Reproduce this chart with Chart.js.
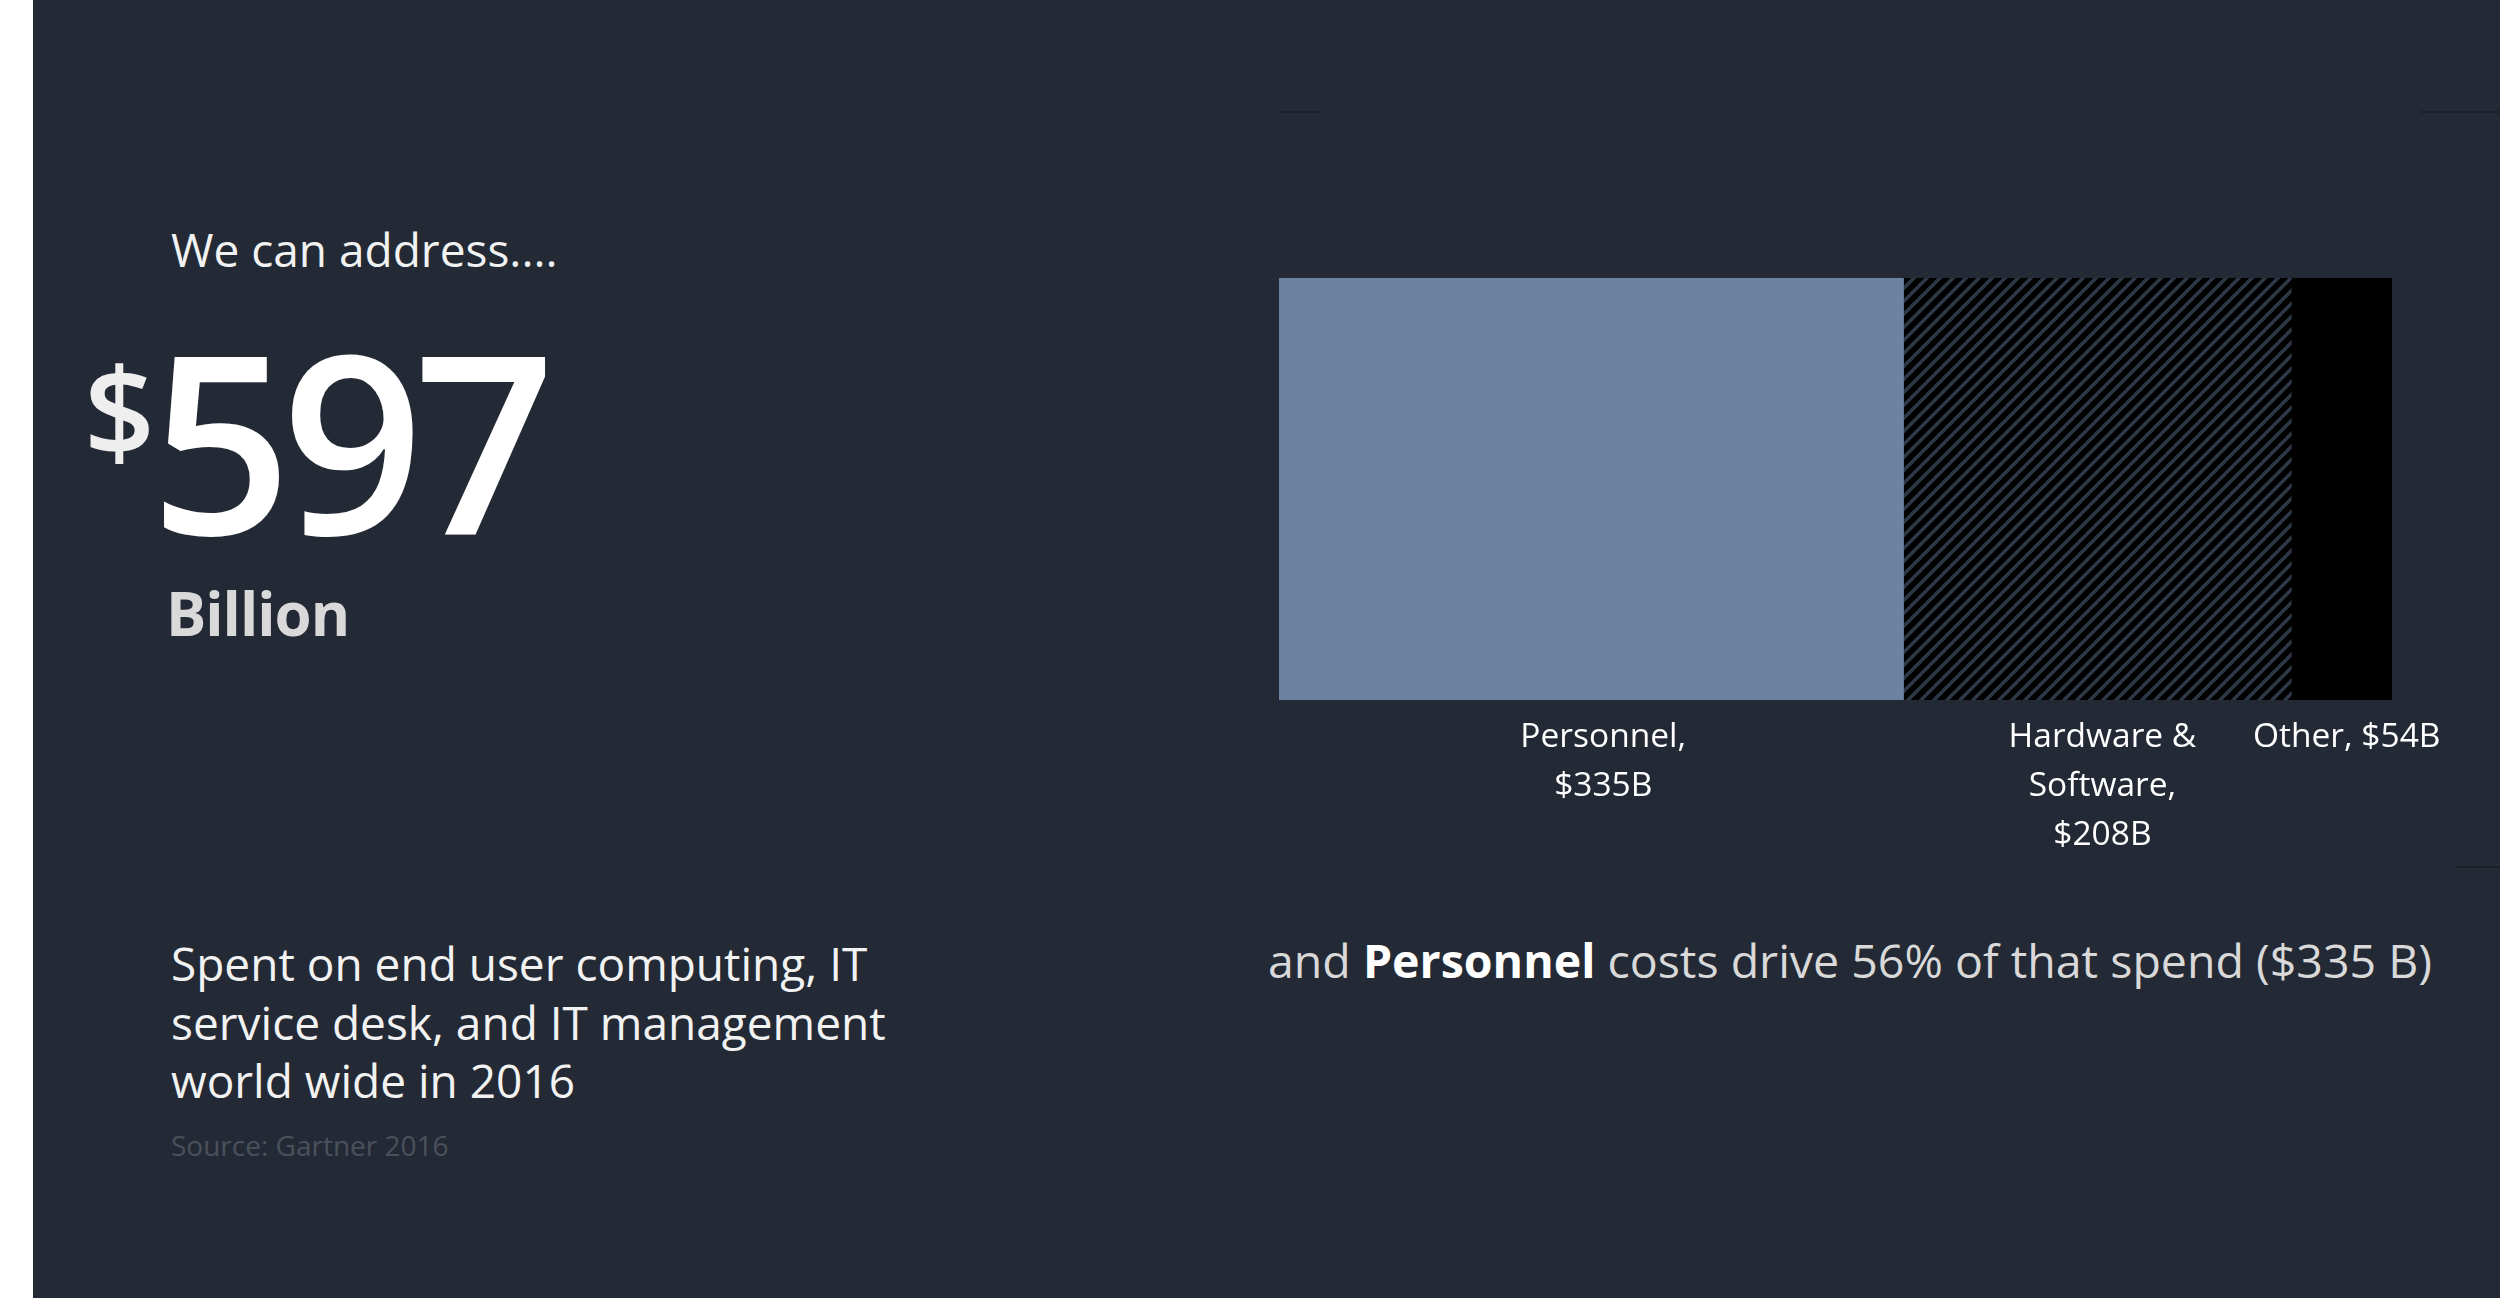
<!DOCTYPE html>
<html lang="en">
<head>
    <meta charset="UTF-8">
    <title>IT Spend 2016</title>
    <script src="https://cdn.jsdelivr.net/npm/chart.js"></script>
    <style>
        html, body {
            margin: 0;
            padding: 0;
            width: 2500px;
            height: 1298px;
            overflow: hidden;
            background: #ffffff;
            font-family: 'Open Sans', 'Noto Sans', sans-serif;
        }
        .slide {
            position: absolute;
            left: 33px;
            top: 0;
            width: 2467px;
            height: 1298px;
            background: #232a35;
        }
        .txt {
            position: absolute;
            white-space: nowrap;
            line-height: 1;
        }
        .intro { left: 171px; top: 226px; font-size: 46px; color: #f2f2f2; }
        .dollar { left: 84px; top: 347px; font-size: 124px; font-weight: 600; color: #eeeeee; }
        .big { left: 150px; top: 315px; font-size: 248px; font-weight: 600; color: #ffffff; letter-spacing: -10px; }
        .billion { left: 166px; top: 583px; font-size: 60px; font-weight: 700; color: #d9d9d9; letter-spacing: -1px; }
        .spent { left: 171px; top: 934px; font-size: 46px; line-height: 58.5px; color: #f2f2f2; }
        .source { left: 171px; top: 1131px; font-size: 28px; color: #4a515b; }
        .note { left: 1268px; top: 937px; font-size: 46.5px; color: #d9d9d9; }
        .note b { color: #ffffff; font-weight: 700; }
        .rule { position: absolute; height: 2px; background: #1c2027; }
        #chartBox {
            position: absolute;
            left: 1229px;
            top: 258px;
            width: 1271px;
            height: 640px;
        }
    </style>
</head>
<body>
    <div class="slide"></div>
    <div class="rule" style="left:1278px; top:111px; width:42px;"></div>
    <div class="rule" style="left:2420px; top:111px; width:80px;"></div>
    <div class="rule" style="left:2456px; top:866px; width:44px;"></div>

    <div class="txt intro">We can address....</div>
    <div class="txt dollar">$</div>
    <div class="txt big">597</div>
    <div class="txt billion">Billion</div>
    <div class="txt spent">Spent on end user computing, IT<br>service desk, and IT management<br>world wide in 2016</div>
    <div class="txt source">Source: Gartner 2016</div>
    <div class="txt note">and <b>Personnel</b> costs drive 56% of that spend ($335 B)</div>

    <div id="chartBox"><canvas id="spendChart"></canvas></div>

    <script>
        // spend by category, $ billions (Gartner 2016)
        const categories = ['Personnel', 'Hardware & Software', 'Other'];
        const spend = [335, 208, 54];
        const total = spend.reduce((a, b) => a + b, 0);

        // crisp "/" stripes for the hardware & software block
        function stripes() {
            const n = 13;
            const c = document.createElement('canvas');
            c.width = n; c.height = n;
            const g = c.getContext('2d');
            g.fillStyle = '#000000';
            g.fillRect(0, 0, n, n);
            g.fillStyle = '#2d3644';
            for (let y = 0; y < n; y++) {
                for (let x = 0; x < n; x++) {
                    if ((x + y) % n < 5) g.fillRect(x, y, 1, 1);
                }
            }
            return g.createPattern(c, 'repeat');
        }

        const fills = ['#6c82a1', stripes(), '#000000'];

        // wrap "Name, $xB" into lines no wider than maxW
        function wrap(ctx, text, maxW) {
            const words = text.split(' ');
            const lines = [];
            let line = '';
            words.forEach(w => {
                const test = line ? line + ' ' + w : w;
                if (line && ctx.measureText(test).width > maxW) {
                    lines.push(line);
                    line = w;
                } else {
                    line = test;
                }
            });
            if (line) lines.push(line);
            return lines;
        }

        const segmentLabels = {
            id: 'segmentLabels',
            afterDatasetsDraw(chart) {
                const ctx = chart.ctx;
                const bottom = chart.chartArea.bottom;
                ctx.save();
                ctx.font = '33.5px "Open Sans", sans-serif';
                ctx.fillStyle = '#ffffff';
                ctx.textAlign = 'center';
                ctx.textBaseline = 'alphabetic';
                chart.data.datasets.forEach((ds, i) => {
                    const bar = chart.getDatasetMeta(i).data[0];
                    const cx = (bar.x + bar.base) / 2 + (i === 0 ? 12 : 5);
                    const text = categories[i] + ', $' + spend[i] + 'B';
                    wrap(ctx, text, 215).forEach((ln, j) => {
                        ctx.fillText(ln, cx, bottom + 47 + j * 49);
                    });
                });
                ctx.restore();
            }
        };

        new Chart(document.getElementById('spendChart'), {
            type: 'bar',
            data: {
                labels: ['Spend'],
                datasets: categories.map((name, i) => ({
                    label: name,
                    data: [spend[i]],
                    backgroundColor: fills[i],
                    borderWidth: 0,
                    barPercentage: 1,
                    categoryPercentage: 1
                }))
            },
            options: {
                indexAxis: 'y',
                responsive: true,
                maintainAspectRatio: false,
                animation: false,
                devicePixelRatio: 1,
                layout: {
                    padding: { left: 50, top: 20, right: 108, bottom: 198 }
                },
                scales: {
                    x: { stacked: true, min: 0, max: total, display: false },
                    y: { stacked: true, display: false }
                },
                plugins: {
                    legend: { display: false },
                    tooltip: { enabled: false }
                }
            },
            plugins: [segmentLabels]
        });
    </script>
</body>
</html>
